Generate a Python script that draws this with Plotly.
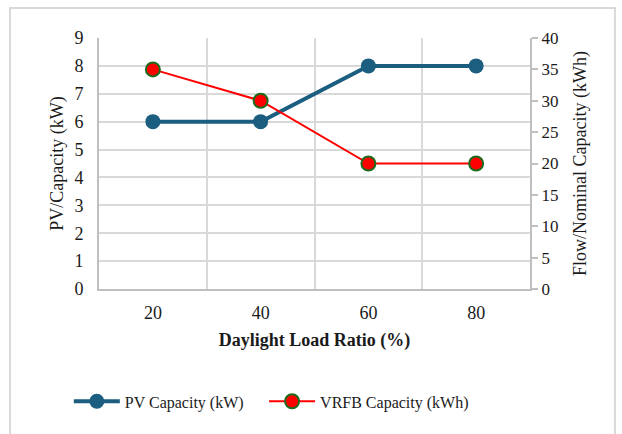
import plotly.graph_objects as go

# Daylight load ratio categories and the two sized capacities
load_ratio = ["20", "40", "60", "80"]
pv_capacity_kw = [6, 6, 8, 8]
vrfb_capacity_kwh = [35, 30, 20, 20]

FONT = "Liberation Serif"
GRID = "#d9d9d9"
PV_COLOR = "#1b5e80"

fig = go.Figure()

fig.add_trace(go.Scatter(
    x=load_ratio, y=pv_capacity_kw, name="PV Capacity (kW)",
    mode="lines+markers",
    line=dict(color=PV_COLOR, width=4),
    marker=dict(size=15, color=PV_COLOR),
    yaxis="y", legend="legend",
))
fig.add_trace(go.Scatter(
    x=load_ratio, y=vrfb_capacity_kwh, name="VRFB Capacity (kWh)",
    mode="lines+markers",
    line=dict(color="#ff0000", width=2),
    marker=dict(size=14, color="#ff0000", line=dict(color="#1e6b1e", width=2)),
    yaxis="y2", legend="legend2",
))

legend_style = dict(orientation="h", xanchor="left", y=-0.38, yanchor="top",
                    font=dict(family=FONT, size=16), itemwidth=46,
                    bgcolor="rgba(0,0,0,0)")

fig.update_layout(
    width=622, height=434,
    margin=dict(l=99, r=92, t=38, b=145),
    paper_bgcolor="white", plot_bgcolor="white",
    font=dict(family=FONT, size=18, color="#1a1a1a"),
    showlegend=True,
    legend=dict(x=-0.07, **legend_style),
    legend2=dict(x=0.383, **legend_style),
    xaxis=dict(
        type="category", tickson="boundaries",
        showgrid=True, gridcolor=GRID, gridwidth=2,
        showline=True, linecolor="#bfbfbf", linewidth=2,
        ticks="", ticklabelstandoff=6,
        tickfont=dict(family=FONT, size=18),
        title=dict(text="<b>Daylight Load Ratio (%)</b>", standoff=12,
                   font=dict(family=FONT, size=18)),
        range=[-0.5, 3.5],
    ),
    yaxis=dict(
        range=[0, 9], dtick=1,
        showgrid=True, gridcolor=GRID, gridwidth=2,
        showline=True, linecolor="#bfbfbf", linewidth=2,
        ticks="", ticklabelstandoff=10, zeroline=False,
        tickfont=dict(family=FONT, size=18),
        title=dict(text="PV/Capacity (kW)", standoff=6,
                   font=dict(family=FONT, size=18)),
    ),
    yaxis2=dict(
        range=[0, 40], dtick=5, overlaying="y", side="right",
        showgrid=False, zeroline=False,
        showline=True, linecolor="#bfbfbf", linewidth=2,
        ticks="outside", ticklen=6, tickcolor="#bfbfbf", tickwidth=2,
        tickfont=dict(family=FONT, size=17),
        title=dict(text="Flow/Nominal Capacity (kWh)", standoff=16,
                   font=dict(family=FONT, size=18)),
    ),
    shapes=[dict(
        type="rect", xref="paper", yref="paper",
        x0=-0.2065, x1=1.197, y0=-0.62, y1=1.1195,
        line=dict(color=GRID, width=2), layer="below",
    )],
)

fig.write_html("out.html")
